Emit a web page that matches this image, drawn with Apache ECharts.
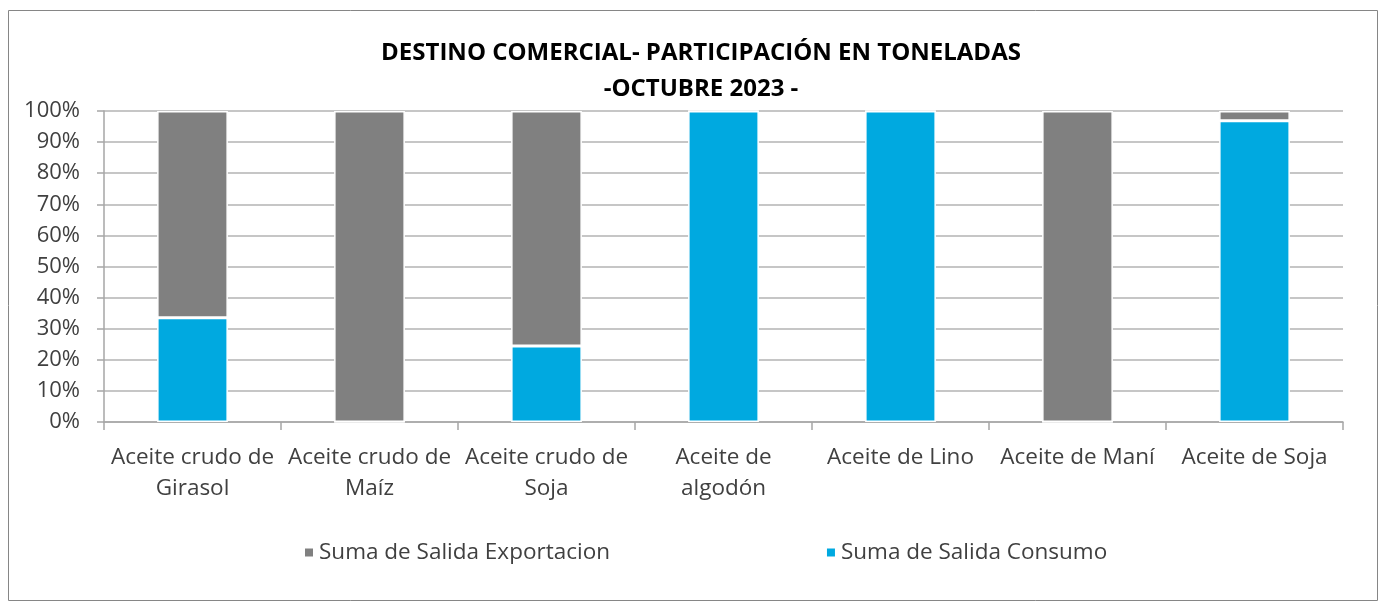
<!DOCTYPE html>
<html><head><meta charset="utf-8">
<script src="https://cdn.jsdelivr.net/npm/echarts@6/dist/echarts.min.js"></script>
<style>html,body{margin:0;padding:0;background:#fff}#c{width:1386px;height:602px}</style>
</head><body><div id="c"></div>
<script>
const categories = ["Aceite crudo de\nGirasol","Aceite crudo de\nMaíz","Aceite crudo de\nSoja","Aceite de\nalgodón","Aceite de Lino","Aceite de Maní","Aceite de Soja"];
const consumo = [33.5, 0, 24.4, 100, 100, 0, 96.9];
const exportacion = [66.5, 100, 75.6, 0, 0, 100, 3.1];
const yTicks = [0,10,20,30,40,50,60,70,80,90,100];
const FONT = "'Open Sans', Carlito, 'Liberation Sans', sans-serif";
const chart = echarts.init(document.getElementById('c'));
chart.setOption({
  animation:false,
  textStyle:{fontFamily:FONT},
  title:{text:"DESTINO COMERCIAL- PARTICIPACIÓN EN TONELADAS\n-OCTUBRE 2023 -",left:696,textAlign:'center',top:30,
    textStyle:{fontFamily:FONT,fontSize:24,fontWeight:'bold',color:'#000',lineHeight:36}},
  graphic:[{type:'rect',shape:{x:8.5,y:10.5,width:1369,height:590},style:{fill:'none',stroke:'#868686',lineWidth:1},silent:true}],
  legend:{top:536,left:298,itemGap:215,itemWidth:10,itemHeight:10,itemTextGap:5,icon:'rect',
    data:['Suma de Salida Exportacion','Suma de Salida Consumo'],
    textStyle:{fontFamily:FONT,fontSize:22.5,color:'#404040'}},
  grid:{left:104,right:43,top:111,bottom:180,containLabel:false},
  xAxis:{type:'category',data:categories,
    axisLine:{lineStyle:{color:'#a6a6a6',width:1.5}},
    axisTick:{show:true,length:8,lineStyle:{color:'#a6a6a6',width:1.5}},
    axisLabel:{fontFamily:FONT,fontSize:22.5,color:'#404040',margin:20,lineHeight:31,interval:0}},
  yAxis:{type:'value',min:0,max:100,interval:10,
    axisLine:{show:true,lineStyle:{color:'#a6a6a6',width:1.5}},
    axisTick:{show:true,length:7,lineStyle:{color:'#a6a6a6',width:1.5}},
    axisLabel:{fontFamily:FONT,fontSize:22,color:'#404040',margin:24,formatter:v=>v+'%'},
    splitLine:{lineStyle:{color:'#b3b3b3',width:1.5}}},
  series:[
    {name:'Suma de Salida Consumo',type:'bar',stack:'a',data:consumo,barCategoryGap:'60%',
     itemStyle:{color:'#00A9E0',borderColor:'#fff',borderWidth:1.5}},
    {name:'Suma de Salida Exportacion',type:'bar',stack:'a',data:exportacion,barCategoryGap:'60%',
     itemStyle:{color:'#808080',borderColor:'#fff',borderWidth:1.5}}
  ]
});
</script></body></html>
